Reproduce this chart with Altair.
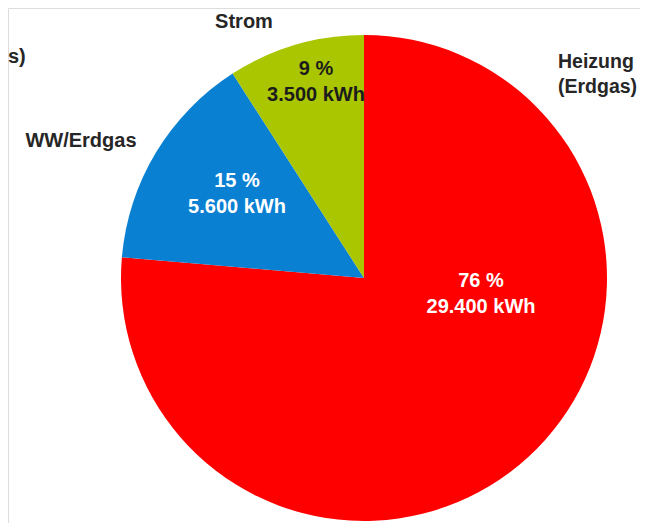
import altair as alt
import pandas as pd

# ---- data ----
categories = ["Heizung (Erdgas)", "WW/Erdgas", "Strom"]
kwh = [29400, 5600, 3500]
percent = [76, 15, 9]
colors = ["#FF0000", "#0A80D2", "#A9C600"]

def de_num(v):
    return f"{v:,}".replace(",", ".")

df = pd.DataFrame({
    "category": categories,
    "kwh": kwh,
    "order": list(range(len(categories))),
    "label": [f"{p} %\n{de_num(v)} kWh" for p, v in zip(percent, kwh)],
})

# ---- layout (chart coordinates) ----
W, H = 632, 515
CX, CY, R = 356, 270, 243
inside_pos = {  # x-center, first baseline
    "Heizung (Erdgas)": (473, 279),
    "WW/Erdgas": (229, 179),
    "Strom": (308, 67),
}
inside_col = {"Heizung (Erdgas)": "white", "WW/Erdgas": "white", "Strom": "#1c1c1c"}
FONT = "Liberation Sans"

color_scale = alt.Scale(domain=categories, range=colors)

pie = alt.Chart(df).mark_arc(outerRadius=R).encode(
    theta=alt.Theta("kwh:Q", stack=True),
    color=alt.Color("category:N", scale=color_scale, legend=None),
    order=alt.Order("order:Q"),
    x=alt.value(CX),
    y=alt.value(CY),
)

layers = [pie]
for cat in categories:
    px, py = inside_pos[cat]
    layers.append(
        alt.Chart(df).transform_filter(alt.datum.category == cat).mark_text(
            font=FONT, fontSize=20, fontWeight="bold", align="center",
            baseline="alphabetic", lineBreak="\n", lineHeight=26,
            color=inside_col[cat],
        ).encode(text="label:N", x=alt.value(px), y=alt.value(py))
    )

outside = [
    ("Strom", 236, 20, "center", 20),
    ("Heizung\n(Erdgas)", 550, 60, "left", 19.5),
    ("WW/Erdgas", 73, 139, "center", 20),
    ("s)", 0, 55, "left", 20),
]
for txt, px, py, al, fs in outside:
    layers.append(
        alt.Chart(df).transform_filter(alt.datum.order == 0).mark_text(
            text=txt, font=FONT, fontSize=fs, fontWeight="bold", align=al,
            baseline="alphabetic", lineBreak="\n", lineHeight=25, color="#262626",
        ).encode(x=alt.value(px), y=alt.value(py))
    )

chart = alt.layer(*layers).properties(
    width=W, height=H,
    autosize=alt.AutoSizeParams(type="none"),
    padding=0,
).configure_view(stroke=None).configure(background="white")

chart.save("out.html", embed_options={"renderer": "svg", "actions": False})
